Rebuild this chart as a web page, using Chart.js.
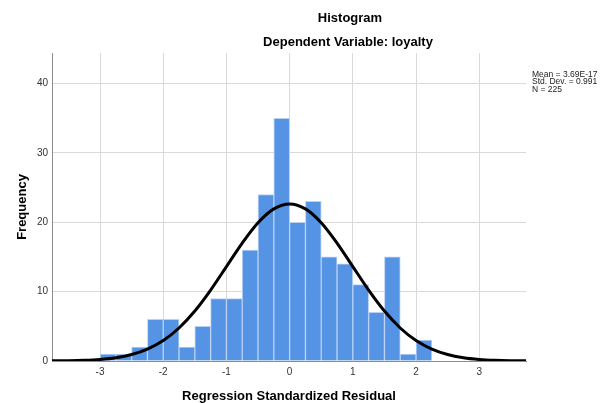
<!DOCTYPE html>
<html>
<head>
<meta charset="utf-8">
<script src="https://cdn.jsdelivr.net/npm/chart.js@4/dist/chart.umd.min.js"></script>
<style>
html,body{margin:0;padding:0;background:#fff;}
canvas{display:block;}
</style>
</head>
<body>
<canvas id="c" width="600" height="403"></canvas>
<script>
// Histogram bins (bin centres, width 0.25) and counts
const binCenters = [-2.875,-2.625,-2.375,-2.125,-1.875,-1.625,-1.375,-1.125,-0.875,-0.625,-0.375,-0.125,
                    0.125,0.375,0.625,0.875,1.125,1.375,1.625,1.875,2.125];
const counts = [1,1,2,6,6,2,5,9,9,16,24,35,20,23,15,14,11,7,15,1,3];

// Normal curve
const curveX = [-4,-3.75,-3.5,-3.25,-3,-2.75,-2.5,-2.25,-2,-1.75,-1.5,-1.25,-1,-0.75,-0.5,-0.25,0,
                0.25,0.5,0.75,1,1.25,1.5,1.75,2,2.25,2.5,2.75,3,3.25,3.5,3.75,4];
const curveY = [0.01,0.02,0.04,0.10,0.23,0.48,0.94,1.72,2.95,4.76,7.20,10.22,13.61,17.00,19.93,21.93,22.64,
                21.93,19.93,17.00,13.61,10.22,7.20,4.76,2.95,1.72,0.94,0.48,0.23,0.10,0.04,0.02,0.01];

const xTicks = [-3,-2,-1,0,1,2,3];
const yTicks = [0,10,20,30,40];

const titleLines = ["Histogram","Dependent Variable: loyalty"];
const statsLines = ["Mean = 3.69E-17","Std. Dev. = 0.991","N = 225"];
const xTitle = "Regression Standardized Residual";
const yTitle = "Frequency";

const FONT = "'Liberation Sans', Arial, sans-serif";

const textPlugin = {
  id: 'texts',
  afterDraw(chart) {
    const ctx = chart.ctx;
    const a = chart.chartArea;
    ctx.save();
    ctx.fillStyle = '#000';
    ctx.textBaseline = 'alphabetic';
    ctx.textAlign = 'center';
    ctx.font = 'bold 13px ' + FONT;
    ctx.fillText(titleLines[0], 350, 21.7);
    ctx.fillText(titleLines[1], 348, 45.7);
    // x title
    ctx.font = 'bold 13px ' + FONT;
    ctx.fillText(xTitle, (a.left + a.right) / 2, 400);
    // y title
    ctx.save();
    ctx.translate(25.5, (a.top + a.bottom) / 2);
    ctx.rotate(-Math.PI / 2);
    ctx.fillText(yTitle, 0, 0);
    ctx.restore();
    // stats
    ctx.textAlign = 'left';
    ctx.fillStyle = '#222';
    ctx.font = '8.5px ' + FONT;
    statsLines.forEach((s, i) => ctx.fillText(s, 532, 77 + i * 7.4));
    ctx.restore();
  }
};

new Chart(document.getElementById('c'), {
  type: 'bar',
  data: {
    datasets: [
      {
        type: 'line',
        data: curveX.map((x, i) => ({x: x, y: curveY[i]})),
        borderColor: '#000',
        borderWidth: 3,
        pointRadius: 0,
        cubicInterpolationMode: 'monotone',
        fill: false,
        order: 0
      },
      {
        type: 'bar',
        data: binCenters.map((x, i) => ({x: x, y: counts[i]})),
        backgroundColor: '#5593e5',
        borderColor: '#b9d1f3',
        borderWidth: 1,
        borderSkipped: 'bottom',
        barPercentage: 1,
        categoryPercentage: 1,
        order: 1
      }
    ]
  },
  options: {
    responsive: false,
    devicePixelRatio: 1,
    animation: false,
    layout: { padding: { left: 0, top: 53, right: 74, bottom: 0 } },
    plugins: { legend: { display: false }, tooltip: { enabled: false }, title: { display: false } },
    scales: {
      x: {
        type: 'linear',
        min: -3.76,
        max: 3.74,
        offset: false,
        afterBuildTicks: s => { s.ticks = xTicks.map(v => ({value: v})); },
        afterFit: s => { s.height = 42; },
        ticks: {
          padding: 5,
          color: '#333',
          font: { size: 10, family: FONT },
          maxRotation: 0,
          autoSkip: false,
          callback: v => String(v)
        },
        grid: { color: '#d9d9d9', lineWidth: 1, drawTicks: false, offset: false },
        border: { color: '#8c8c8c', width: 1 }
      },
      y: {
        type: 'linear',
        min: 0,
        max: 44.4,
        afterBuildTicks: s => { s.ticks = yTicks.map(v => ({value: v})); },
        afterFit: s => { s.width = 52; },
        ticks: {
          padding: 4,
          color: '#333',
          font: { size: 10, family: FONT },
          callback: v => String(v)
        },
        grid: { color: '#d9d9d9', lineWidth: 1, drawTicks: false },
        border: { color: '#8c8c8c', width: 1 }
      }
    }
  },
  plugins: [textPlugin]
});
</script>
</body>
</html>
